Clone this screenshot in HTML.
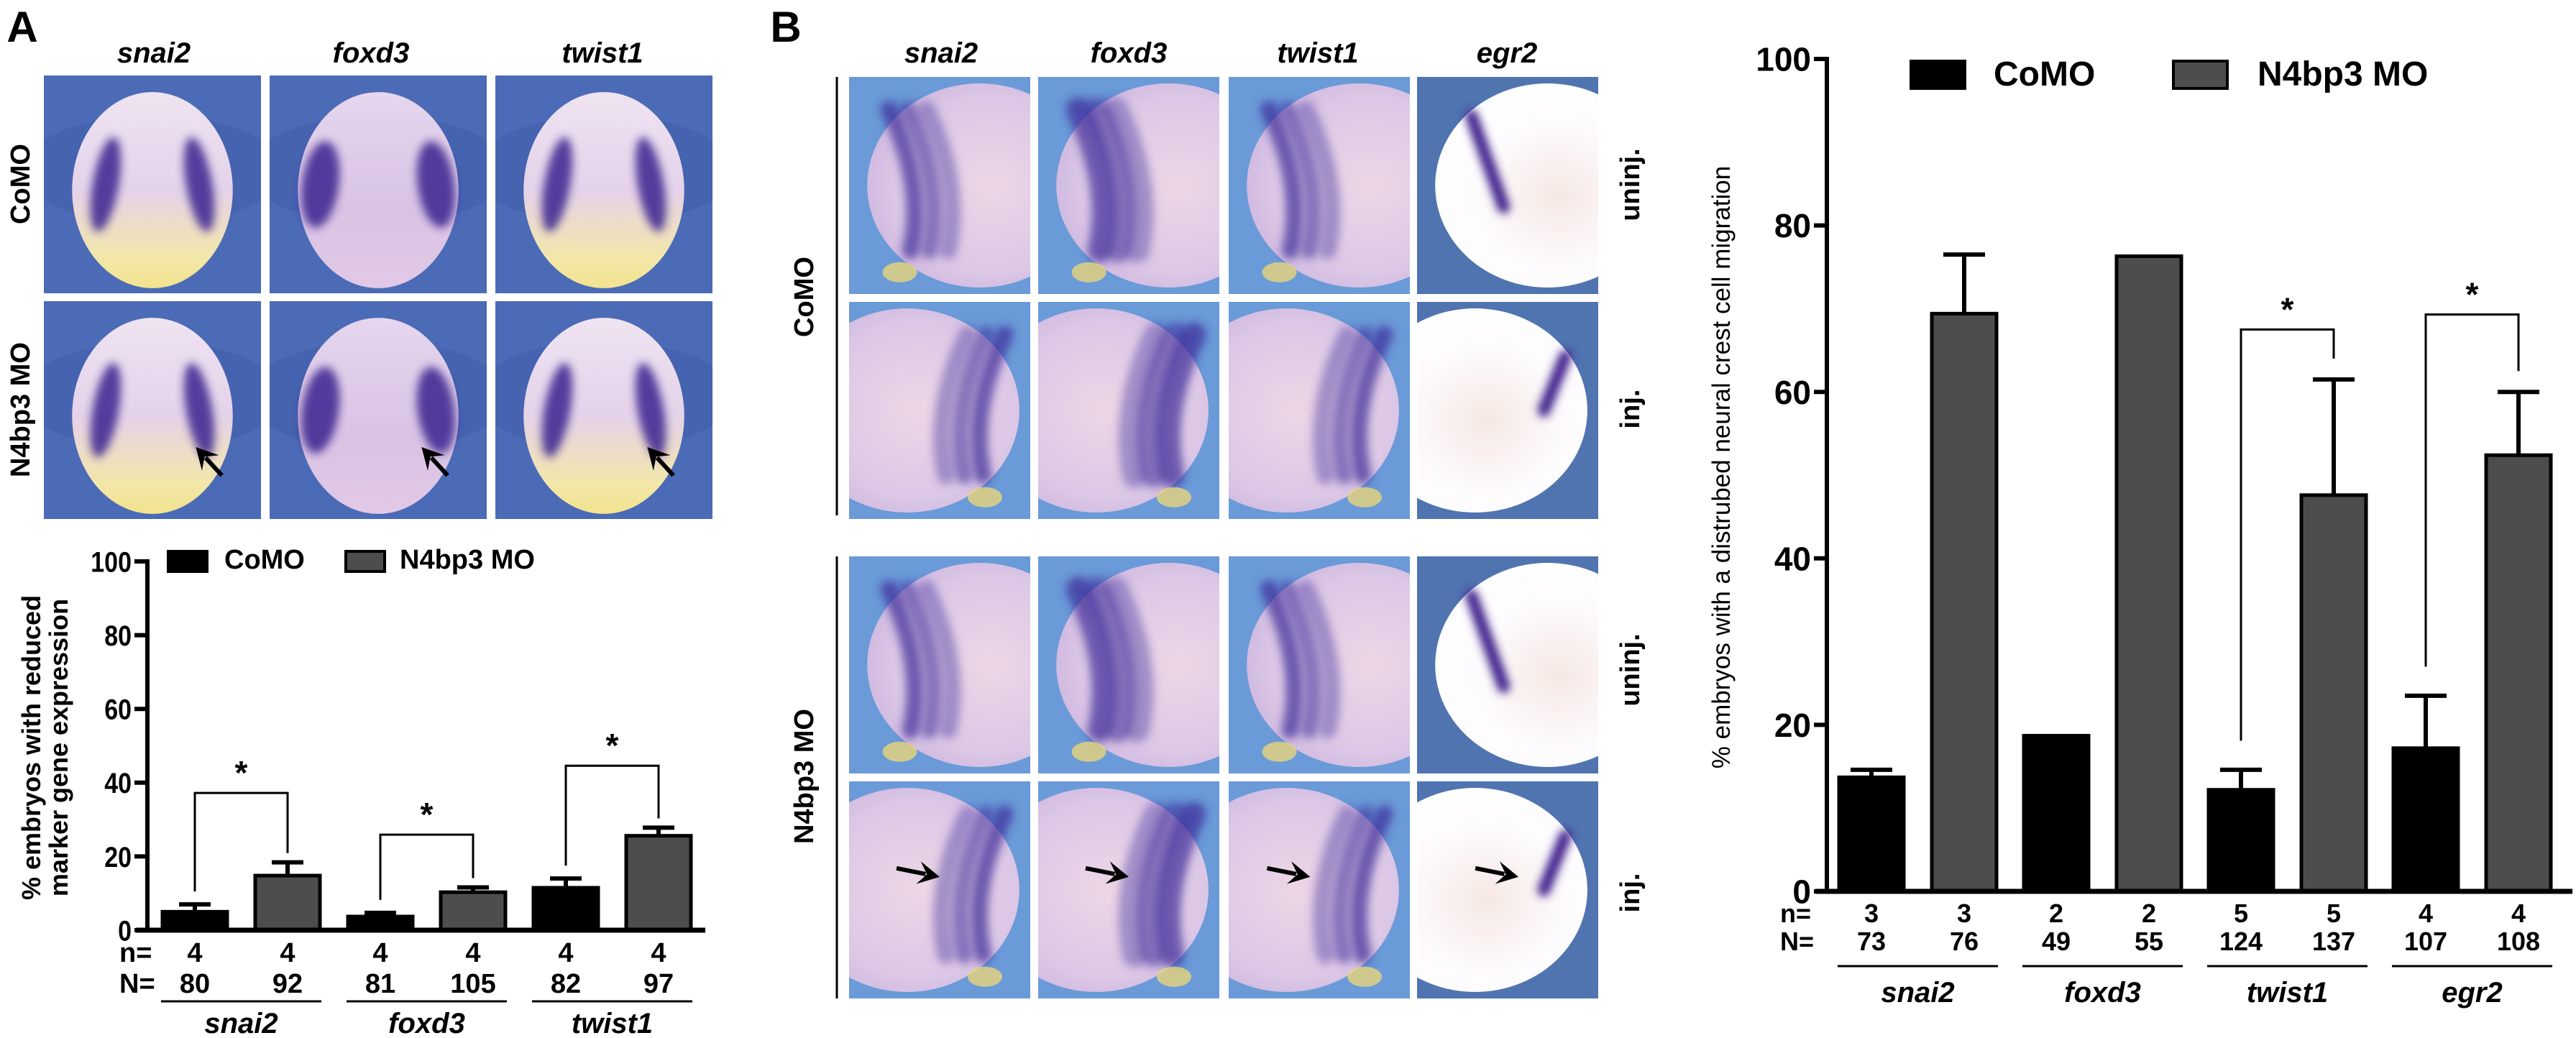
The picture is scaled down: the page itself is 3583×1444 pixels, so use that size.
<!DOCTYPE html>
<html><head><meta charset="utf-8"><title>N4bp3 figure</title>
<style>
html,body{margin:0;padding:0;background:#fff;}
svg{display:block;}
text{font-family:"Liberation Sans",Arial,sans-serif;}
</style></head>
<body>
<svg id="fig" width="3583" height="1444" viewBox="0 0 3583 1444" xmlns="http://www.w3.org/2000/svg">
<defs>
  <linearGradient id="embA" x1="0" y1="0" x2="0" y2="1">
    <stop offset="0" stop-color="#efe4f2"/><stop offset="0.5" stop-color="#e4d2ea"/><stop offset="0.85" stop-color="#f3e7a8"/><stop offset="1" stop-color="#f2e38e"/>
  </linearGradient>
  <linearGradient id="embA2" x1="0" y1="0" x2="0" y2="1">
    <stop offset="0" stop-color="#e6d6ee"/><stop offset="0.6" stop-color="#d8c3e4"/><stop offset="1" stop-color="#e2c8e6"/>
  </linearGradient>
  <radialGradient id="embB" cx="0.55" cy="0.5" r="0.6">
    <stop offset="0" stop-color="#ecd6e6"/><stop offset="0.7" stop-color="#dcc8e6"/><stop offset="1" stop-color="#cdb6df"/>
  </radialGradient>
  <radialGradient id="embW" cx="0.55" cy="0.55" r="0.6">
    <stop offset="0" stop-color="#f6e8e4"/><stop offset="0.6" stop-color="#fdfbfd"/><stop offset="1" stop-color="#ffffff"/>
  </radialGradient>
  <filter id="blur" x="-100%" y="-50%" width="300%" height="200%"><feGaussianBlur stdDeviation="6"/></filter>
</defs>
<g id="photos"></g>
<g id="labels"></g>
<g id="chartA"></g>
<g id="chartB"></g>
</svg>
<script>
// ---------- chart data ----------
const genesA = ["snai2","foxd3","twist1"];
const comoA = [5.0, 3.7, 11.5];
const comoErrA = [7.0, 4.7, 14.0];
const n4A = [14.8, 10.3, 25.6];
const n4ErrA = [18.4, 11.6, 27.8];
const nSmallA = [[4,4],[4,4],[4,4]];
const nBigA = [[80,92],[81,105],[82,97]];
const sigTopA = [37.2, 25.9, 44.6];
const ticksA = [0,20,40,60,80,100];

const genesB = ["snai2","foxd3","twist1","egr2"];
const comoB = [13.7, 18.7, 12.2, 17.2];
const comoErrB = [14.6, null, 14.6, 23.5];
const n4B = [69.4, 76.3, 47.6, 52.4];
const n4ErrB = [76.5, null, 61.5, 60.0];
const nSmallB = [[3,3],[2,2],[5,5],[4,4]];
const nBigB = [[73,76],[49,55],[124,137],[107,108]];
const sigGroupsB = [2, 3];
const sigTopB = [67.5, 69.3];
const ticksB = [0,20,40,60,80,100];

const NS = "http://www.w3.org/2000/svg";
function mk(parent, tag, attrs, txt){
  const e = document.createElementNS(NS, tag);
  for (const k in attrs) e.setAttribute(k, attrs[k]);
  if (txt !== undefined) e.textContent = txt;
  parent.appendChild(e);
  return e;
}

// ---------- photos ----------
const photos = document.getElementById('photos');
let clipId = 0;
function panel(x,y,w,h,bg,name){
  const id = 'c'+(clipId++);
  const cp = mk(document.querySelector('defs'),'clipPath',{id:id});
  mk(cp,'rect',{x:x,y:y,width:w,height:h});
  const g = mk(photos,'g',{'clip-path':'url(#'+id+')'});
  
  
  mk(g,'rect',{x:x,y:y,width:w,height:h,fill:bg});
  return g;
}
function arrow(g,x1,y1,x2,y2){
  const a = Math.atan2(y2-y1,x2-x1), L=30, W=16;
  mk(g,'line',{x1:x1,y1:y1,x2:x2-Math.cos(a)*20,y2:y2-Math.sin(a)*20,stroke:'#000','stroke-width':6});
  const p1=[x2-L*Math.cos(a)+W*Math.sin(a), y2-L*Math.sin(a)-W*Math.cos(a)];
  const p2=[x2-L*Math.cos(a)-W*Math.sin(a), y2-L*Math.sin(a)+W*Math.cos(a)];
  mk(g,'polygon',{points:`${x2},${y2} ${p1} ${x2-18*Math.cos(a)},${y2-18*Math.sin(a)} ${p2}`,fill:'#000'});
}
// Panel A
const colA = [61,375,689], rowA = [105,419], wA=302, hA=303;
for (let r=0;r<2;r++) for (let c=0;c<3;c++){
  const x=colA[c], y=rowA[r];
  const g = panel(x,y,wA,hA,'#4c6bb6','photo-a-'+genesA[c]+'-'+(r?'n4bp3':'como'));
  mk(g,'ellipse',{cx:x+wA/2,cy:y+hA/2-20,rx:wA*0.6,ry:hA*0.25,fill:'#3f5ca8',opacity:0.5});
  const cx=x+wA/2, cy=y+hA/2+8;
  mk(g,'ellipse',{cx:cx,cy:cy,rx:wA*0.37,ry:hA*0.45,fill:c===1?'url(#embA2)':'url(#embA)'});
  const dx = c===1?0.27:0.22, sw = c===1?0.085:0.06;
  for (const s of [-1,1]){
    mk(g,'ellipse',{cx:cx+s*wA*dx,cy:cy-8,rx:wA*sw,ry:hA*(c===1?0.2:0.22),fill:'#3b238f',opacity:0.85,filter:'url(#blur)',transform:`rotate(${s*(c===1?-8:-10)} ${cx+s*wA*dx} ${cy})`});
  }
  if (r===1) arrow(g, x+wA*0.82, y+hA*0.8, x+wA*0.7, y+hA*0.67);
}
// Panel B
const colB=[1181,1444,1709,1971], rowB=[107,420,774,1087], wB=252, hB=302;
for (let r=0;r<4;r++) for (let c=0;c<4;c++){
  const x=colB[c], y=rowB[r];
  const egr = c===3;
  const inj = r%2===1;
  const g = panel(x,y,wB,hB, egr?'#4f74b0':'#6a9ad8','photo-b-'+genesB[c]+'-'+(r<2?'como':'n4bp3')+(inj?'-inj':'-uninj'));
  const cx = inj ? x+wB*0.32 : x+wB*0.72, cy=y+hB*0.5;
  mk(g,'ellipse',{cx:cx,cy:cy,rx:wB*0.62,ry:hB*0.47,fill:egr?'url(#embW)':'url(#embB)'});
  if (!egr){
    const s = inj?1:-1;
    const baseX = inj ? x+wB*0.74 : x+wB*0.34;
    for (let k=0;k<3;k++){
      const sx = baseX + s*(-k*26);
      mk(g,'path',{d:`M${sx+s*30},${y+hB*0.15} Q${sx-s*20},${y+hB*0.5} ${sx},${y+hB*0.8}`,fill:'none',stroke:'#3d2b99','stroke-width':c===1?34:24,'stroke-linecap':'round',opacity:0.7-k*0.15,filter:'url(#blur)'});
    }
    mk(g,'ellipse',{cx:inj?x+wB*0.75:x+wB*0.28,cy:y+hB*0.9,rx:24,ry:14,fill:'#e8d47a',opacity:0.8});
  } else {
    const sx = inj? x+wB*0.7 : x+wB*0.3;
    mk(g,'path',{d: inj?`M${sx+30},${y+hB*0.25} L${sx},${y+hB*0.5}`:`M${sx},${y+hB*0.18} L${sx+45},${y+hB*0.6}`,fill:'none',stroke:'#45268f','stroke-width':18,'stroke-linecap':'round',filter:'url(#blur)'});
  }
  if (r===3){
    const ax = egr? x+wB*0.56 : x+wB*(c===2?0.45:0.5);
    arrow(g, ax-60, y+hB*0.4, ax, y+hB*0.44);
  }
}

// ---------- labels ----------
const L = document.getElementById('labels');
function label(x,y,txt,opts,name){
  const t = mk(L,'text',Object.assign({x:x,y:y,'text-anchor':'middle','font-weight':'bold',fill:'#000'},opts||{}),txt);
  
  
  return t;
}
label(31,58,'A',{'font-size':60},'panel-a-letter');
label(1093,58,'B',{'font-size':60},'panel-b-letter');
const hdrA=[214,516,838];
genesA.forEach((g,i)=>label(hdrA[i],87,g,{'font-size':40,'font-style':'italic'},'panel-a-header-'+g));
const hdrB=[1309,1570,1833,2096];
genesB.forEach((g,i)=>label(hdrB[i],87,g,{'font-size':40,'font-style':'italic'},'panel-b-header-'+g));
label(0,0,'CoMO',{'font-size':38,transform:'translate(41,256) rotate(-90)'},'panel-a-row-como');
label(0,0,'N4bp3 MO',{'font-size':38,transform:'translate(41,570) rotate(-90)'},'panel-a-row-n4bp3');
label(0,0,'CoMO',{'font-size':38,transform:'translate(1131,413) rotate(-90)'},'panel-b-row-como');
label(0,0,'N4bp3 MO',{'font-size':38,transform:'translate(1131,1080) rotate(-90)'},'panel-b-row-n4bp3');
[[257,'uninj.'],[569,'inj.'],[932,'uninj.'],[1242,'inj.']].forEach((p,i)=>label(0,0,p[1],{'font-size':38,transform:`translate(2280,${p[0]}) rotate(-90)`},'injection-label-'+i));
let vl = mk(L,'line',{x1:1164,y1:107,x2:1164,y2:717,stroke:'#000','stroke-width':3});


vl = mk(L,'line',{x1:1164,y1:774,x2:1164,y2:1389,stroke:'#000','stroke-width':3});



// ---------- bar chart builder ----------
function barChart(cfg){
  const G = document.getElementById(cfg.id);
  const y = v => cfg.y0 - v*cfg.ppu;
  const xc = (g,s) => cfg.x0 + cfg.pitch*g + cfg.off*s;
  let e = mk(G,'line',{x1:cfg.axisX,y1:y(100)-3,x2:cfg.axisX,y2:cfg.y0+3,stroke:'#000','stroke-width':cfg.axW});
   
  cfg.ticks.forEach(t=>{
    let tk = mk(G,'line',{x1:cfg.axisX-18,y1:y(t),x2:cfg.axisX,y2:y(t),stroke:'#000','stroke-width':cfg.axW});
     
    let tl = mk(G,'text',{x:cfg.axisX-22,y:y(t)+cfg.tickFs*0.36,'text-anchor':'end','font-size':cfg.tickFs,'font-weight':'bold',fill:'#000',transform:cfg.cond?`translate(${(cfg.axisX-22)*0.15},0) scale(0.85,1)`:''},String(t));
     
  });
  cfg.genes.forEach((gname,g)=>{
    [[cfg.como,cfg.comoErr,'#000','como'],[cfg.n4,cfg.n4Err,'#4d4d4d','n4bp3']].forEach((ser,s)=>{
      const v = ser[0][g], err = ser[1][g], cx = xc(g,s);
      const r = mk(G,'rect',{x:cx-cfg.bw/2,y:y(v),width:cfg.bw,height:cfg.y0-y(v),fill:ser[2],stroke:'#000','stroke-width':5});
       
      if (err!==null && err!==undefined){
        const eg = mk(G,'g',{});
         
        mk(eg,'line',{x1:cx,y1:y(v),x2:cx,y2:y(err),stroke:'#000','stroke-width':6});
        mk(eg,'line',{x1:cx-cfg.cap/2,y1:y(err),x2:cx+cfg.cap/2,y2:y(err),stroke:'#000','stroke-width':6});
      }
      let tn = mk(G,'text',{x:cx,y:cfg.nY,'text-anchor':'middle','font-size':cfg.nFs,'font-weight':'bold',fill:'#000'},String(cfg.nSmall[g][s]));
       
      let tN = mk(G,'text',{x:cx,y:cfg.NY,'text-anchor':'middle','font-size':cfg.nFs,'font-weight':'bold',fill:'#000'},String(cfg.nBig[g][s]));
       
    });
    const gx = (xc(g,0)+xc(g,1))/2;
    let ul = mk(G,'line',{x1:xc(g,0)-cfg.bw/2-2,y1:cfg.ulY,x2:xc(g,1)+cfg.bw/2+2,y2:cfg.ulY,stroke:'#000','stroke-width':3});
     
    let gl = mk(G,'text',{x:gx,y:cfg.geneY,'text-anchor':'middle','font-size':cfg.geneFs,'font-weight':'bold','font-style':'italic',fill:'#000'},gname);
     
  });
  e = mk(G,'line',{x1:cfg.axisX-16,y1:cfg.y0,x2:cfg.xEnd,y2:cfg.y0,stroke:'#000','stroke-width':cfg.axW+1});
   
  cfg.sigGroups.forEach((g,i)=>{
    const top = cfg.sigTop[i];
    const le = cfg.comoErr[g]!==null?cfg.comoErr[g]:cfg.como[g];
    const re = cfg.n4Err[g]!==null?cfg.n4Err[g]:cfg.n4[g];
    const sg = mk(G,'g',{});
     
    mk(sg,'polyline',{points:`${xc(g,0)},${y(le+3.5)} ${xc(g,0)},${y(top)} ${xc(g,1)},${y(top)} ${xc(g,1)},${y(re+2.5)}`,fill:'none',stroke:'#000','stroke-width':3});
    mk(sg,'text',{x:(xc(g,0)+xc(g,1))/2,y:y(top)-12,'text-anchor':'middle','font-size':cfg.starFs,'font-weight':'bold',fill:'#000'},'*');
  });
  let t = mk(G,'text',{x:cfg.nLabX,y:cfg.nY,'text-anchor':'start','font-size':cfg.nFs,'font-weight':'bold',fill:'#000'},'n=');
   
  t = mk(G,'text',{x:cfg.nLabX,y:cfg.NY,'text-anchor':'start','font-size':cfg.nFs,'font-weight':'bold',fill:'#000'},'N=');
   
  const lg = mk(G,'g',{});
   
  const Lg = cfg.legend;
  mk(lg,'rect',{x:Lg.b1,y:Lg.y,width:Lg.w,height:Lg.h,fill:'#000',stroke:'#000','stroke-width':4});
  mk(lg,'text',{x:Lg.t1,y:Lg.y+Lg.h-4,'font-size':Lg.fs,'font-weight':'bold',fill:'#000'},'CoMO');
  mk(lg,'rect',{x:Lg.b2,y:Lg.y,width:Lg.w,height:Lg.h,fill:'#4d4d4d',stroke:'#000','stroke-width':4});
  mk(lg,'text',{x:Lg.t2,y:Lg.y+Lg.h-4,'font-size':Lg.fs,'font-weight':'bold',fill:'#000'},'N4bp3 MO');
  cfg.yTitle.forEach((line,i)=>{
    const yt = mk(G,'text',{x:0,y:0,'text-anchor':'middle','font-size':cfg.yTitleFs,'font-weight':cfg.yTitleW,fill:'#000',transform:`translate(${cfg.yTitleX[i]},${cfg.yTitleY}) rotate(-90)`},line);
     
  });
}

barChart({id:'chartA',genes:genesA,como:comoA,comoErr:comoErrA,n4:n4A,n4Err:n4ErrA,
  nSmall:nSmallA,nBig:nBigA,sigGroups:[0,1,2],sigTop:sigTopA,ticks:ticksA,
  y0:1294,ppu:5.13,x0:271,pitch:258,off:129,bw:90,cap:44,axisX:205,xEnd:981,axW:6,
  tickFs:40,cond:true,nY:1338,NY:1381,ulY:1393,geneY:1437,nFs:38,geneFs:40,starFs:46,nLabX:166,
  legend:{b1:234,b2:481,y:767,w:54,h:28,t1:312,t2:556,fs:38},
  yTitle:['% embryos with reduced','marker gene expression'],yTitleX:[56,94],yTitleY:1040,yTitleFs:36,yTitleW:'bold'});

barChart({id:'chartB',genes:genesB,como:comoB,comoErr:comoErrB,n4:n4B,n4Err:n4ErrB,
  nSmall:nSmallB,nBig:nBigB,sigGroups:sigGroupsB,sigTop:sigTopB,ticks:ticksB,
  y0:1240,ppu:11.58,x0:2603,pitch:257,off:129,bw:90,cap:58,axisX:2541,xEnd:3578,axW:6,
  tickFs:46,cond:false,nY:1283,NY:1322,ulY:1344,geneY:1394,nFs:36,geneFs:40,starFs:46,nLabX:2476,
  legend:{b1:2658,b2:3023,y:85,w:75,h:38,t1:2773,t2:3140,fs:48},
  yTitle:['% embryos with a distrubed  neural crest cell migration'],yTitleX:[2406],yTitleY:650,yTitleFs:35,yTitleW:'normal'});
</script>
</body></html>
